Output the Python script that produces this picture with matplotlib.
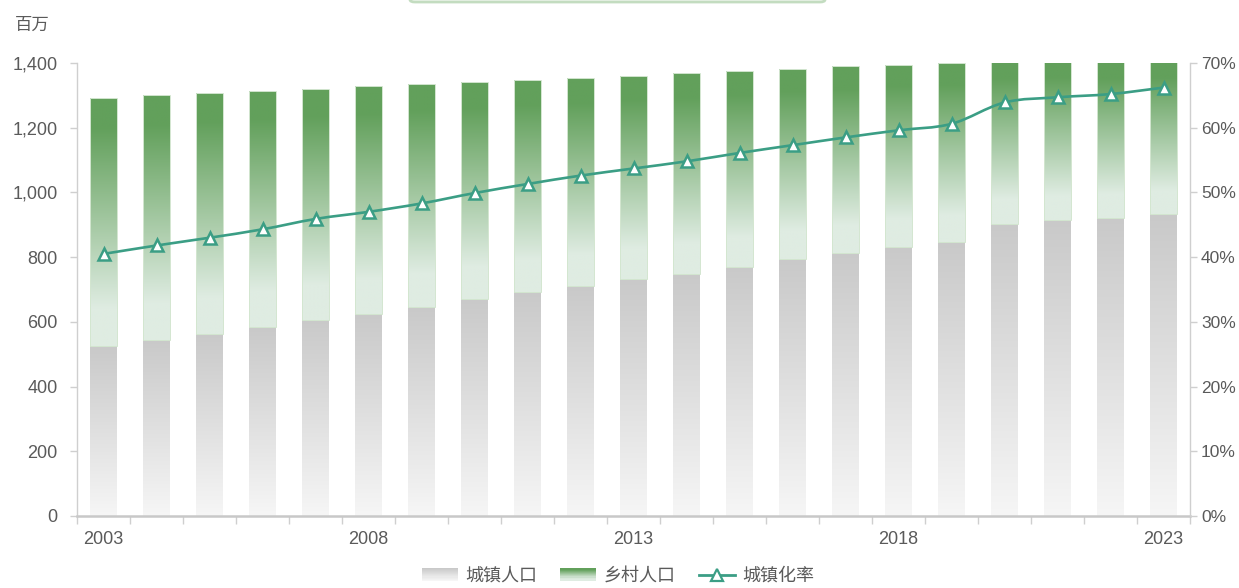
import numpy as np
import matplotlib
matplotlib.use("Agg")
import matplotlib.pyplot as plt
from matplotlib import font_manager
from matplotlib.patches import Rectangle, FancyBboxPatch
from matplotlib.path import Path
from matplotlib.patches import PathPatch
from matplotlib.legend_handler import HandlerBase
from matplotlib.lines import Line2D
from matplotlib.colors import LinearSegmentedColormap
from matplotlib.ticker import FuncFormatter, FixedLocator

# ---------------- data ----------------
years = list(range(2003, 2024))
total_pop = [1292, 1300, 1308, 1314, 1321, 1328, 1335, 1341, 1347, 1354, 1361,
             1368, 1375, 1383, 1390, 1395, 1400, 1412, 1413, 1412, 1410]
urban_pop = [524, 543, 562, 583, 606, 624, 645, 670, 691, 712, 731,
             749, 771, 793, 813, 831, 848, 902, 914, 921, 933]
urban_rate = [40.5, 41.8, 43.0, 44.3, 45.9, 47.0, 48.3, 49.9, 51.3, 52.6, 53.7,
              54.8, 56.1, 57.3, 58.5, 59.6, 60.6, 63.9, 64.7, 65.2, 66.2]
rural_pop = [t - u for t, u in zip(total_pop, urban_pop)]
legend_labels = ["城镇人口", "乡村人口", "城镇化率"]
unit_label = "百万"
xtick_years = [2003, 2008, 2013, 2018, 2023]

# ---------------- fonts ----------------
names = {f.name for f in font_manager.fontManager.ttflist}
num_font = "Liberation Sans Narrow" if "Liberation Sans Narrow" in names else "Liberation Sans"
num_size = 15 if num_font == "Liberation Sans Narrow" else 13
cjk = ["Noto Sans CJK SC", "DejaVu Sans"]

GREEN_DARK = "#62a05b"
GREEN_LIGHT = "#dfece2"
GRAY_DARK = "#c9c9c9"
GRAY_LIGHT = "#f6f6f6"
LINE_C = "#3b9e85"
TXT = "#5a5a5a"
AX_C = "#cfcfcf"

green_cmap = LinearSegmentedColormap.from_list(
    "g", [(0, GREEN_DARK), (0.12, GREEN_DARK), (0.85, GREEN_LIGHT), (1, GREEN_LIGHT)])
gray_cmap = LinearSegmentedColormap.from_list("k", [(0, GRAY_DARK), (1, GRAY_LIGHT)])

fig = plt.figure(figsize=(12.39, 5.88), dpi=100)
L, R, B, T = 77 / 1239, 1190 / 1239, 1 - 516 / 588, 1 - 63 / 588
ax = fig.add_axes([L, B, R - L, T - B])
ax2 = ax.twinx()

x = np.arange(len(years))
w = 0.505
b_urban = ax.bar(x, urban_pop, width=w, color="none", linewidth=0, zorder=2)
b_rural = ax.bar(x, rural_pop, bottom=urban_pop, width=w, color="none",
                 edgecolor="#d3e6d0", linewidth=0.7, zorder=3)

grad = np.linspace(0, 1, 256).reshape(-1, 1)
for rects, cmap in ((b_urban, gray_cmap), (b_rural, green_cmap)):
    for r in rects:
        x0, y0, ww, hh = r.get_x(), r.get_y(), r.get_width(), r.get_height()
        im = ax.imshow(grad, cmap=cmap, extent=[x0, x0 + ww, y0, y0 + hh],
                       origin="upper", aspect="auto", zorder=2,
                       interpolation="bilinear")
        im.set_clip_path(Path(r.get_path().vertices, r.get_path().codes),
                         r.get_transform())
        im.set_clip_box(ax.bbox)

ax.set_xlim(-0.5, len(years) - 0.5)
ax.set_ylim(0, 1400)
ax2.set_ylim(0, 0.70)

# smooth line (Catmull-Rom style bezier through the data points)
px = x.astype(float)
py = np.array(urban_rate) / 100.0
s = 0.17
verts = [(px[0], py[0])]
codes = [Path.MOVETO]
n = len(px)
for i in range(n - 1):
    pm = (px[max(i - 1, 0)], py[max(i - 1, 0)])
    p0 = (px[i], py[i])
    p1 = (px[i + 1], py[i + 1])
    p2 = (px[min(i + 2, n - 1)], py[min(i + 2, n - 1)])
    c1 = (p0[0] + (p1[0] - pm[0]) * s, p0[1] + (p1[1] - pm[1]) * s)
    c2 = (p1[0] - (p2[0] - p0[0]) * s, p1[1] - (p2[1] - p0[1]) * s)
    verts += [c1, c2, p1]
    codes += [Path.CURVE4] * 3
ax2.add_patch(PathPatch(Path(verts, codes), facecolor="none", edgecolor=LINE_C,
                        linewidth=1.9, zorder=4))
ax2.plot(px, py, linestyle="none", marker="^", markersize=9, markerfacecolor="white",
         markeredgecolor=LINE_C, markeredgewidth=1.8, zorder=5)

# axes styling
for a in (ax, ax2):
    a.spines["top"].set_visible(False)
ax.spines["right"].set_visible(False)
ax2.spines["left"].set_visible(False)
ax2.spines["bottom"].set_visible(False)
ax.spines["left"].set_color(AX_C)
ax.spines["left"].set_linewidth(1.0)
ax2.spines["right"].set_color(AX_C)
ax2.spines["right"].set_linewidth(1.0)
ax.spines["bottom"].set_color("#c8c8c8")
ax.spines["bottom"].set_linewidth(1.8)

ax.set_yticks(np.arange(0, 1401, 200))
ax.yaxis.set_major_formatter(FuncFormatter(lambda v, p: f"{int(v):,}"))
ax2.set_yticks(np.arange(0, 0.701, 0.10))
ax2.yaxis.set_major_formatter(FuncFormatter(lambda v, p: f"{int(round(v * 100))}%"))

ax.xaxis.set_major_locator(FixedLocator(np.arange(-0.5, len(years), 1.0)))
ax.xaxis.set_major_formatter(FuncFormatter(lambda v, p: ""))
ax.xaxis.set_minor_locator(FixedLocator([years.index(yv) for yv in xtick_years]))
ax.xaxis.set_minor_formatter(FuncFormatter(lambda v, p: str(years[int(round(v))])))
ax.tick_params(axis="x", which="major", length=6, color=AX_C, width=1.0)
ax.tick_params(axis="x", which="minor", length=0, pad=11, labelsize=num_size,
               labelcolor=TXT)
ax.tick_params(axis="y", length=5, color=AX_C, width=1.0, labelsize=num_size,
               labelcolor=TXT, pad=9)
ax2.tick_params(axis="y", length=5, color=AX_C, width=1.0, labelsize=12.5,
                labelcolor=TXT, pad=3)
for lab in ax.get_yticklabels() + ax2.get_yticklabels() + ax.get_xticklabels(minor=True):
    lab.set_fontfamily(num_font)

fig.text(15 / 1239, 1 - 25 / 588, unit_label, fontsize=12.5, color=TXT,
         family=cjk, ha="left", va="center")

# decorative element cut at top edge
fig.patches.append(FancyBboxPatch((410 / 1239, 1 - 2 / 588), 415 / 1239, 0.05,
                                  boxstyle="round,pad=0,rounding_size=0.004",
                                  transform=fig.transFigure, facecolor="#f6faf5",
                                  edgecolor="#c3dcc0", linewidth=2.0))


# legend with gradient handles
class GradHandler(HandlerBase):
    def __init__(self, cmap):
        super().__init__()
        self.cmap = cmap

    def create_artists(self, legend, orig_handle, xdescent, ydescent, width,
                       height, fontsize, trans):
        arts = []
        k = 12
        for i in range(k):
            c = self.cmap(i / (k - 1))
            arts.append(Rectangle((-xdescent, -ydescent + height * (1 - (i + 1) / k)),
                                  width, height / k + 0.3, facecolor=c,
                                  edgecolor="none", transform=trans))
        return arts


h_urban = Rectangle((0, 0), 1, 1)
h_rural = Rectangle((0, 0), 1, 1)
h_line = Line2D([], [], color=LINE_C, linewidth=2, marker="^", markersize=8,
                markerfacecolor="white", markeredgecolor=LINE_C, markeredgewidth=1.6)
leg = fig.legend([h_urban, h_rural, h_line], legend_labels,
                 handler_map={h_urban: GradHandler(gray_cmap),
                              h_rural: GradHandler(green_cmap)},
                 loc="center", bbox_to_anchor=(618 / 1239, 1 - 576 / 588), ncol=3,
                 frameon=False, prop={"family": cjk, "size": 13},
                 handlelength=2.0, handleheight=0.75, handletextpad=0.4,
                 columnspacing=1.3, labelcolor=TXT)

fig.savefig("out.png", dpi=100, facecolor="white")
